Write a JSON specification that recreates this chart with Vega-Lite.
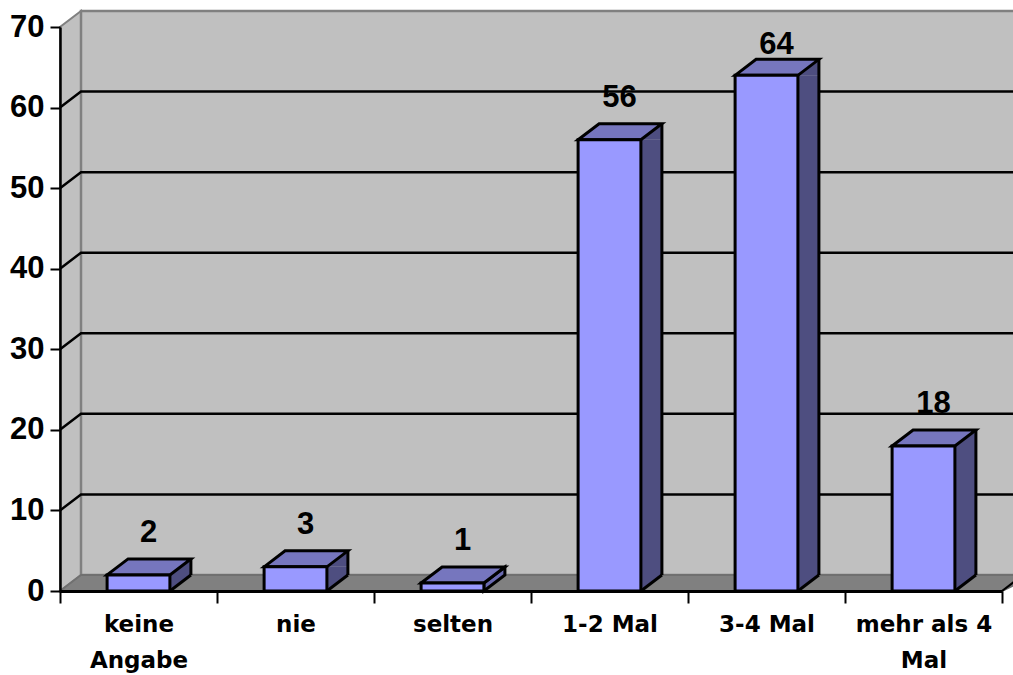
{
"$schema":"https://vega.github.io/schema/vega-lite/v6.json",
"width":942,"height":564,"autosize":"none",
"padding":{"left":60,"top":27,"right":11,"bottom":84},
"background":"white",
"config":{"view":{"stroke":null}},
"datasets":{
"bars":[{"category":"keine Angabe","value":2},{"category":"nie","value":3},{"category":"selten","value":1},{"category":"1-2 Mal","value":56},{"category":"3-4 Mal","value":64},{"category":"mehr als 4 Mal","value":18}],
"ticks":[{"tick":10},{"tick":20},{"tick":30},{"tick":40},{"tick":50},{"tick":60}],
"base":[{"tick":0}]
},
"encoding":{
"x":{"field":"category","type":"nominal","scale":{"type":"band","paddingInner":0,"paddingOuter":0,"domain":["keine Angabe","nie","selten","1-2 Mal","3-4 Mal","mehr als 4 Mal"]},
"axis":{"title":null,"labelAngle":0,"tickBand":"extent","tickSize":12,"tickWidth":2,"tickColor":"black","domainColor":"black","domainWidth":3,"labelFont":"DejaVu Sans","labelFontWeight":"bold","labelFontSize":23,"labelColor":"black","labelPadding":10,"labelLineHeight":36,"labelLimit":0,"zindex":1,
"labelExpr":"datum.value=='keine Angabe'?['keine','Angabe']:datum.value=='mehr als 4 Mal'?['mehr als 4','Mal']:datum.value"}},
"y":{"field":"value","type":"quantitative","scale":{"domain":[0,70],"nice":false},
"axis":{"title":null,"values":[0,10,20,30,40,50,60,70],"grid":false,"tickSize":10,"tickWidth":2,"tickColor":"black","domainColor":"black","domainWidth":2.5,"labelFont":"Liberation Sans","labelFontWeight":"bold","labelFontSize":31,"labelColor":"black","labelPadding":6,"zindex":1}}
},
"layer":[
{"data":{"name":"base"},"mark":{"type":"point","filled":true,"opacity":1,"size":4,"fill":"#C0C0C0","stroke":"#808080","strokeWidth":2,"shape":"M0,0 L21,-16 L21,-580 L0,-564 Z"},"encoding":{"x":{"value":0},"y":{"field":"tick","type":"quantitative"}}},
{"data":{"name":"base"},"mark":{"type":"point","filled":true,"opacity":1,"size":4,"fill":"#C0C0C0","stroke":"#808080","strokeWidth":2.5,"shape":"M21,-16 L975,-16 L975,-580 L21,-580 Z"},"encoding":{"x":{"value":0},"y":{"field":"tick","type":"quantitative"}}},
{"data":{"name":"base"},"mark":{"type":"point","filled":true,"opacity":1,"size":4,"fill":"#808080","stroke":"#707070","strokeWidth":2,"shape":"M0,0 L21,-16 L975,-16 L942,0 Z"},"encoding":{"x":{"value":0},"y":{"field":"tick","type":"quantitative"}}},
{"data":{"name":"base"},"mark":{"type":"point","filled":false,"opacity":1,"size":4,"stroke":"black","strokeWidth":2,"shape":"M942,0 L963,-16"},"encoding":{"x":{"value":0},"y":{"field":"tick","type":"quantitative"}}},
{"data":{"name":"ticks"},"mark":{"type":"point","filled":false,"opacity":1,"size":4,"stroke":"black","strokeWidth":2.5,"shape":"M0,0 L21,-16 L975,-16"},"encoding":{"x":{"value":0},"y":{"field":"tick","type":"quantitative"}}},
{"data":{"name":"bars"},"transform":[{"filter":"datum.value>=2"}],"mark":{"type":"bar","width":21,"xOffset":41.9,"y2Offset":-16,"fill":"#4E4E80"},"encoding":{"y2":{"datum":0}}},
{"data":{"name":"bars"},"transform":[{"filter":"datum.value>=2"}],"mark":{"type":"point","filled":true,"opacity":1,"size":4,"fill":"#4E4E80","shape":"M31.4,0 L52.4,-16 L52.4,0 Z"}},
{"data":{"name":"bars"},"transform":[{"filter":"datum.value>=2"}],"mark":{"type":"point","filled":true,"opacity":1,"size":4,"fill":"#4E4E80","shape":"M31.4,0 L52.4,-16 L31.4,-16 Z"},"encoding":{"y":{"datum":0}}},
{"data":{"name":"bars"},"transform":[{"filter":"datum.value>=2"}],"mark":{"type":"point","filled":false,"opacity":1,"size":4,"stroke":"black","strokeWidth":3,"shape":"M31.4,0 L52.4,-16"},"encoding":{"y":{"datum":0}}},
{"data":{"name":"bars"},"transform":[{"filter":"datum.value<2"}],"mark":{"type":"point","filled":true,"opacity":1,"size":4,"fill":"#6A6AB0","stroke":"black","strokeWidth":3,"shape":"M31.4,0 L52.4,-16 L52.4,-8 L31.4,8 Z"}},
{"data":{"name":"bars"},"transform":[{"filter":"datum.value>=2"}],"mark":{"type":"rule","xOffset":52.4,"yOffset":-16,"y2Offset":-16,"stroke":"black","strokeWidth":3},"encoding":{"y2":{"datum":0}}},
{"data":{"name":"bars"},"mark":{"type":"point","filled":true,"opacity":1,"size":4,"fill":"#7676BE","stroke":"black","strokeWidth":3,"shape":"M-31.4,0 L-10.4,-16 L52.4,-16 L31.4,0 Z"}},
{"data":{"name":"bars"},"mark":{"type":"bar","width":{"band":0.4},"fill":"#9999FF","stroke":"black","strokeWidth":3},"encoding":{"y2":{"datum":0}}},
{"data":{"name":"bars"},"transform":[{"filter":"datum.value<64"}],"mark":{"type":"text","font":"Liberation Sans","fontWeight":"bold","fontSize":31,"fill":"black","xOffset":10,"yOffset":-42,"baseline":"middle","align":"center"},"encoding":{"text":{"field":"value","type":"quantitative"}}},
{"data":{"name":"bars"},"transform":[{"filter":"datum.value>=64"}],"mark":{"type":"text","font":"Liberation Sans","fontWeight":"bold","fontSize":31,"fill":"black","xOffset":10,"yOffset":-30,"baseline":"middle","align":"center"},"encoding":{"text":{"field":"value","type":"quantitative"}}}
]
}
